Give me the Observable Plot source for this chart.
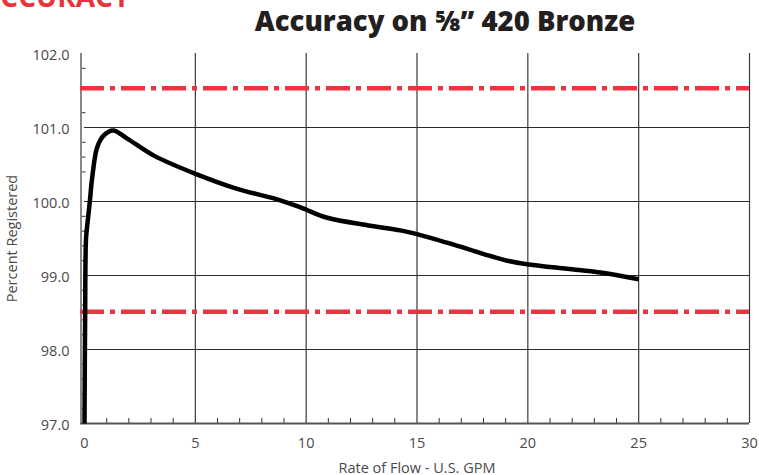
<!DOCTYPE html>
<html>
<head>
<meta charset="utf-8">
<script src="https://cdn.jsdelivr.net/npm/d3@7"></script>
<script src="https://cdn.jsdelivr.net/npm/@observablehq/plot@0.6"></script>
<style>
  body { margin: 0; background: #fff; overflow: hidden; }
  #wrap { position: relative; width: 759px; height: 475px; font-family: "Open Sans", sans-serif; overflow: hidden; }
  #brand { position: absolute; left: -19px; top: -18px; font-size: 28px; line-height: 28px; font-weight: 700; color: #e8333d; white-space: nowrap; }
  #title { position: absolute; left: 0; width: 890px; top: 7px; text-align: center; font-size: 27.5px; line-height: 27px; font-weight: 800; color: #231f20; white-space: nowrap; }
  #chart { position: absolute; left: 0; top: 0; }
</style>
</head>
<body>
<div id="wrap">
  <div id="chart"></div>
  <div id="brand">ACCURACY</div>
  <div id="title">Accuracy on ⅝” 420 Bronze</div>
</div>
<script>
// Curve: rate of flow (U.S. GPM) vs percent registered
const flow = [0, 0.03, 0.07, 0.15, 0.24, 0.35, 0.57, 0.86, 1.29, 1.93, 3.13, 5.04, 6.89, 8.69, 9.74, 10.95, 12.75, 14.25, 15.0, 16.51, 18.01, 19.07, 20.04, 21.77, 23.27, 25.0];
const registered = [97.0, 98.5, 99.5, 99.75, 100.0, 100.33, 100.73, 100.89, 100.96, 100.85, 100.62, 100.37, 100.17, 100.03, 99.92, 99.78, 99.68, 99.61, 99.56, 99.43, 99.29, 99.2, 99.15, 99.09, 99.04, 98.95];

// Accuracy limits (red dash-dot)
const limits = [101.53, 98.51];

// Ticks / grid
const xTicks = [0, 5, 10, 15, 20, 25, 30];
const xGrid = [5, 10, 15, 20, 25, 30];
const xMinor = [1,2,3,4,6,7,8,9,11,12,13,14,16,17,18,19,21,22,23,24,26,27,28,29];
const yTicks = [97, 98, 99, 100, 101, 102];
const yGrid = [98, 99, 100, 101];
const yMinor = [97.2, 97.4, 97.6, 97.8, 98.2, 98.4, 98.6, 98.8, 99.2, 99.4, 99.6, 99.8, 100.4, 100.6, 100.8, 101.2, 101.8];

const data = flow.map((x, i) => ({x, y: registered[i]}));

const W = 759, H = 475, mL = 84, mR = 10, mT = 53, mB = 52;
const fw = W - mL - mR, fh = H - mT - mB;

const chart = Plot.plot({
  width: W,
  height: H,
  marginLeft: mL,
  marginRight: mR,
  marginTop: mT,
  marginBottom: mB,
  x: {domain: [0, 30]},
  y: {domain: [97, 102]},
  style: {fontFamily: "'Open Sans', sans-serif", fontSize: "14.5px", color: "#4a4a4a", background: "transparent"},
  marks: [
    Plot.ruleX(xGrid, {stroke: "#3a3a3a", strokeWidth: 1.2}),
    Plot.ruleY(yGrid, {stroke: "#2a2a2a", strokeWidth: 1.2}),
    Plot.ruleX(xMinor, {insetTop: fh - 5, stroke: "#333", strokeWidth: 1}),
    Plot.ruleY(yMinor, {insetRight: fw - 5, dx: -3.5, stroke: "#333", strokeWidth: 1}),
    Plot.ruleY([97], {stroke: "#555", strokeWidth: 2, insetLeft: -4}),
    Plot.ruleX([0], {dx: -3.5, stroke: "#888", strokeWidth: 2}),
    Plot.ruleY(limits, {stroke: "#ee3340", strokeWidth: 4.5, strokeDasharray: "24,6,5,6", insetLeft: -4}),
    Plot.line(data, {x: "x", y: "y", curve: "catmull-rom", stroke: "#000", strokeWidth: 4.5, strokeLinecap: "butt"}),
    Plot.axisX({ticks: xTicks, tickSize: 0, tickPadding: 14, tickFormat: d => String(d), fontSize: 14.5,
      label: "Rate of Flow - U.S. GPM", labelAnchor: "center", labelOffset: 49, labelArrow: "none"}),
    Plot.axisY({ticks: yTicks, tickSize: 0, tickPadding: 15, tickFormat: d3.format(".1f"), dy: 2, fontSize: 14.5,
      label: "Percent Registered", labelAnchor: "center", labelOffset: 78, labelArrow: "none"})
  ]
});
document.getElementById("chart").appendChild(chart);
</script>
</body>
</html>
